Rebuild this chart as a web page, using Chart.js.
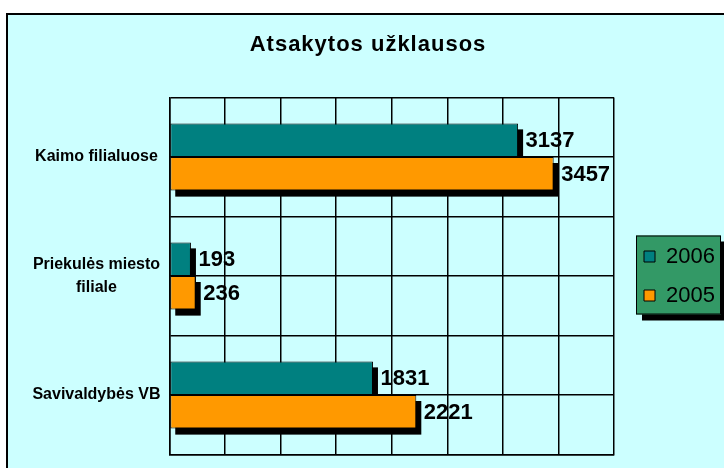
<!DOCTYPE html>
<html><head><meta charset="utf-8">
<script src="https://cdn.jsdelivr.net/npm/chart.js@4/dist/chart.umd.min.js"></script>
<style>
html,body{margin:0;padding:0;background:#fff;overflow:hidden;width:724px;height:468px;}
#frame{position:absolute;left:6px;top:13px;width:720px;height:470px;border:2px solid #000;background:#ccffff;}
canvas{display:block;}
</style></head><body>
<div id="frame"><canvas id="c" width="720" height="470"></canvas></div>
<script>
const titleText = 'Atsakytos užklausos';
const categories = ['Kaimo filialuose', ['Priekulės miesto', 'filiale'], 'Savivaldybės VB'];
const seriesNames = ['2006', '2005'];
const values2006 = [3137, 193, 1831];
const values2005 = [3457, 236, 2221];
const seriesColors = ['#008080', '#ff9900'];
const xMin = 0, xMax = 4000, xStep = 500;

const FONT = '"Liberation Sans", Arial, Helvetica, sans-serif';

const decor = {
  id: 'decor',
  beforeDraw(chart) {
    const ctx = chart.ctx;
    const t = chart.titleBlock;
    if (t && !t.__ls) {
      const orig = t.draw.bind(t);
      t.draw = function (a) { ctx.save(); ctx.letterSpacing = '1px'; orig(a); ctx.restore(); };
      t.__ls = true;
    }
    const hb = chart.legend.legendHitBoxes;
    if (hb && hb.length) {
      const last = hb[hb.length - 1];
      const x = hb[0].left - 8, y = hb[0].top - 10, w = 85;
      const h = (last.top + last.height + 8) - y;
      ctx.save();
      ctx.fillStyle = '#000'; ctx.fillRect(x + 6, y + 6, w, h);
      ctx.fillStyle = '#339966'; ctx.fillRect(x, y, w, h);
      ctx.strokeStyle = '#000'; ctx.lineWidth = 1; ctx.strokeRect(x + 0.5, y + 0.5, w - 1, h - 1);
      ctx.restore();
    }
  },
  beforeDatasetsDraw(chart) {
    const ctx = chart.ctx, a = chart.chartArea;
    ctx.save();
    ctx.beginPath(); ctx.rect(a.left, a.top, a.width, a.height); ctx.clip();
    ctx.fillStyle = '#000';
    chart.data.datasets.forEach((d, i) => {
      chart.getDatasetMeta(i).data.forEach(bar => {
        const p = bar.getProps(['x', 'y', 'base', 'height'], true);
        const l = Math.min(p.x, p.base), r = Math.max(p.x, p.base);
        ctx.fillRect(l + 5, p.y - p.height / 2 + 6, r - l, p.height);
      });
    });
    ctx.restore();
  },
  afterDatasetsDraw(chart) {
    const ctx = chart.ctx;
    ctx.save();
    ctx.font = 'bold 22px ' + FONT;
    ctx.fillStyle = '#000'; ctx.textAlign = 'left'; ctx.textBaseline = 'middle';
    chart.data.datasets.forEach((d, i) => {
      chart.getDatasetMeta(i).data.forEach((bar, j) => {
        ctx.fillText(String(d.data[j]), bar.x + 7.5, bar.y + 1);
      });
    });
    ctx.restore();
  }
};

new Chart(document.getElementById('c'), {
  type: 'bar',
  data: {
    labels: categories,
    datasets: [
      { label: seriesNames[0], data: values2006, backgroundColor: seriesColors[0], borderColor: '#000', borderWidth: 1, borderSkipped: false, categoryPercentage: 0.565, barPercentage: 1 },
      { label: seriesNames[1], data: values2005, backgroundColor: seriesColors[1], borderColor: '#000', borderWidth: 1, borderSkipped: false, categoryPercentage: 0.565, barPercentage: 1 }
    ]
  },
  options: {
    indexAxis: 'y',
    responsive: false,
    animation: false,
    devicePixelRatio: 1,
    layout: { padding: { left: 13, right: 13, top: 0, bottom: 30.5 } },
    scales: {
      x: {
        type: 'linear', min: xMin, max: xMax,
        ticks: { display: false, stepSize: xStep },
        grid: { color: '#000', lineWidth: 1.5, drawTicks: false },
        border: { display: true, color: '#000', width: 1.5 }
      },
      y: {
        type: 'category', offset: true,
        grid: { offset: true, color: '#000', lineWidth: 1.5, drawTicks: false },
        border: { color: '#000', width: 1.5 },
        ticks: { color: '#000', crossAlign: 'center', padding: 9, font: { family: FONT, size: 16, weight: 'bold', lineHeight: 1.45 } },
        afterFit(s) { s.width = 148.5; }
      },
      y2: {
        type: 'category', position: 'right', offset: true,
        grid: { offset: false, color: '#000', lineWidth: 1.5, drawTicks: false },
        border: { display: false },
        ticks: { display: false },
        afterFit(s) { s.width = 13; }
      }
    },
    plugins: {
      title: { display: true, text: titleText, color: '#000', font: { family: FONT, size: 22, weight: 'bold', lineHeight: 1.2 }, padding: { top: 16.3, bottom: 39.8 } },
      legend: { position: 'right', fullSize: false, maxWidth: 88, align: 'center', labels: { boxWidth: 11, boxHeight: 11, padding: 17, color: '#000', font: { family: FONT, size: 22 } } },
      tooltip: { enabled: false }
    }
  },
  plugins: [decor]
});
</script>
</body></html>
